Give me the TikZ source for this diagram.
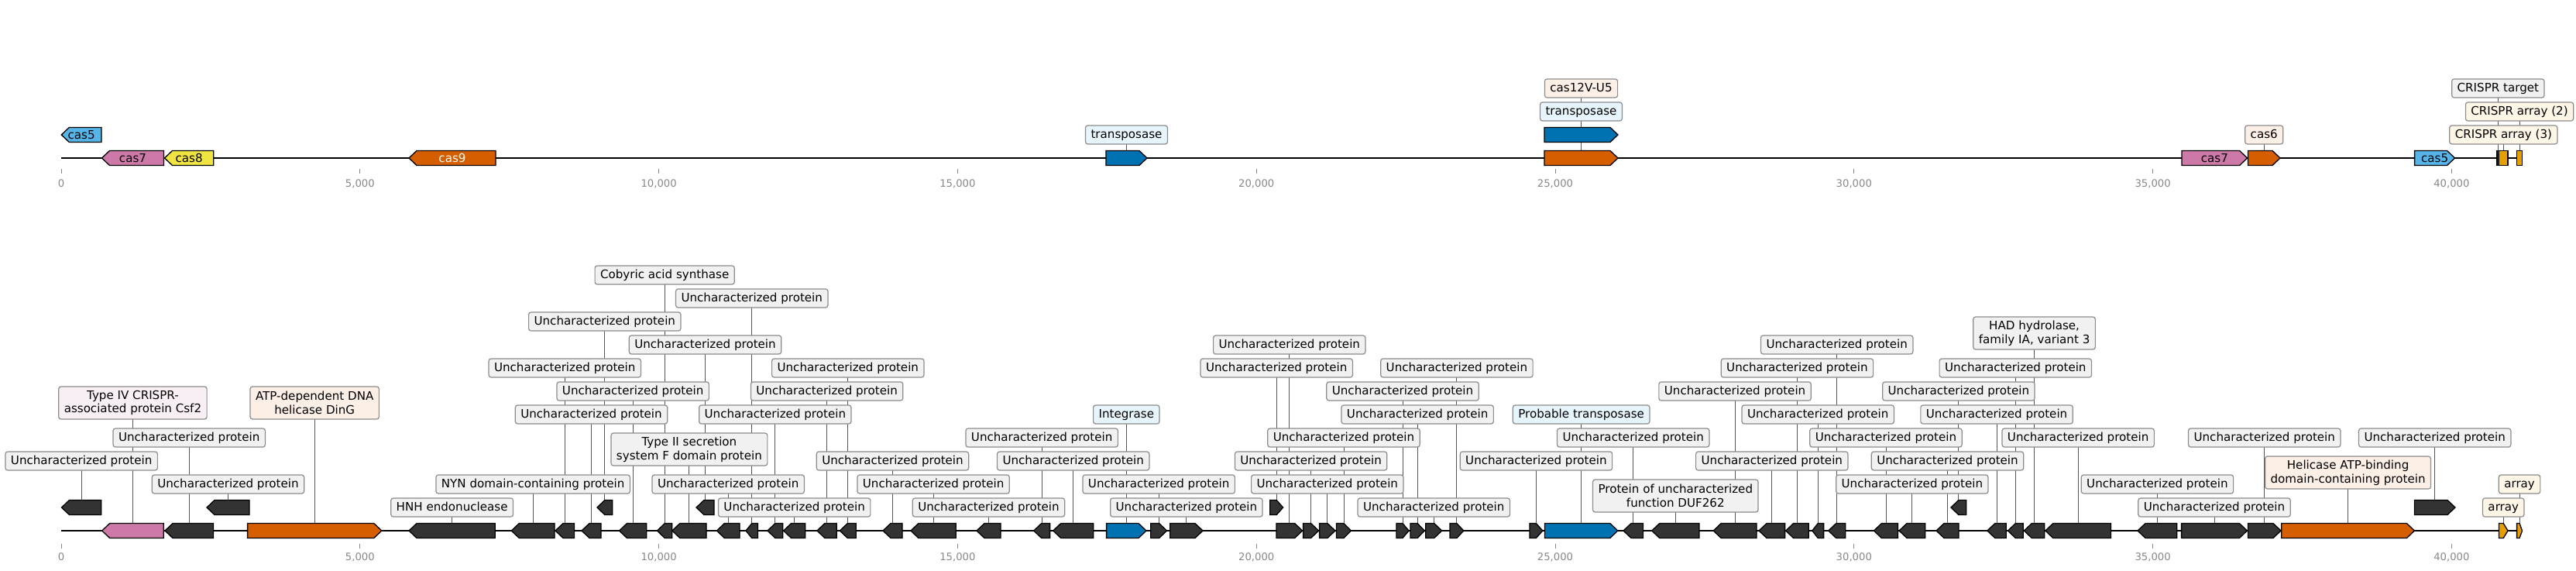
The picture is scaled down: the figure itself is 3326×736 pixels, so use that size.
\documentclass[tikz,border=0pt]{standalone}
\usepackage{fontspec}
\setmainfont{DejaVu Sans}
\pgfdeclarelayer{bg}
\pgfsetlayers{bg,main}
\definecolor{cDark}{HTML}{333333}
\definecolor{cOrange}{HTML}{D55E00}
\definecolor{cBlue}{HTML}{0072B2}
\definecolor{cSky}{HTML}{56B4E9}
\definecolor{cPink}{HTML}{CC79A7}
\definecolor{cYellow}{HTML}{F0E442}
\definecolor{cAmber}{HTML}{E69F00}
\definecolor{fGray}{HTML}{F1F1F1}
\definecolor{fBlue}{HTML}{E6F4FB}
\definecolor{fOrange}{HTML}{FCEFE6}
\definecolor{fPink}{HTML}{F8EFF5}
\definecolor{fCream}{HTML}{FDF6E6}
\definecolor{cBorder}{HTML}{8C8C8C}
\definecolor{cTick}{HTML}{888888}
\definecolor{cConn}{HTML}{555555}
\tikzset{
  gene/.style={draw=black,line width=1.3pt},
  labbase/.style={draw=cBorder,line width=1.2pt,rounded corners=3pt,fill=fGray,inner xsep=7pt,inner ysep=0pt,font=\fontsize{15.1}{17.7}\selectfont},
  lab/.style={labbase,text height=11.5pt,text depth=3.5pt,minimum height=24pt},
  two/.style={labbase,align=center,minimum height=42pt},
  conn/.style={draw=cConn,line width=0.9pt},
  gtext/.style={font=\fontsize{15.1}{17.7}\selectfont,inner sep=0pt,text height=11pt,text depth=0pt},
  ticklab/.style={text=cTick,font=\fontsize{13.2}{15}\selectfont,inner sep=0pt,text height=9.6pt,text depth=0pt},
  tickmark/.style={draw=cTick,line width=0.9pt},
  seq/.style={draw=black,line width=2.2pt}
}
% right-pointing gene
\newcommand\gR[5]{%
  \pgfmathsetmacro\hd{min(10,0.5*(#3-#2))}%
  \pgfmathsetmacro\xb{#3-\hd}%
  \path[gene,fill=#5] (#2,#4-9.5) -- (\xb,#4-9.5) -- (#3,#4) -- (\xb,#4+9.5) -- (#2,#4+9.5) -- cycle;%
  \coordinate (#1) at ({(#2+#3)/2},#4);}
% left-pointing gene
\newcommand\gL[5]{%
  \pgfmathsetmacro\hd{min(10,0.5*(#3-#2))}%
  \pgfmathsetmacro\xb{#2+\hd}%
  \path[gene,fill=#5] (#3,#4-9.5) -- (\xb,#4-9.5) -- (#2,#4) -- (\xb,#4+9.5) -- (#3,#4+9.5) -- cycle;%
  \coordinate (#1) at ({(#2+#3)/2},#4);}
% box feature
\newcommand\gB[5]{%
  \path[gene,fill=#5] (#2,#4-9.5) rectangle (#3,#4+9.5);%
  \coordinate (#1) at ({(#2+#3)/2},#4);}
% label with connector
\newcommand\lab[5][lab]{%
  \node[#1] (#2) at (#3 |- 0,#4) {#5};%
  \begin{pgfonlayer}{bg}\draw[conn] (#2.center) -- (#3);\end{pgfonlayer}}
\begin{document}
\begin{tikzpicture}[x=1pt,y=-1pt]
\useasboundingbox (0,0) rectangle (3326,736);
% sequence lines and axes
\coordinate (ts) at (79,204);
\coordinate (te) at (3256.5,204);
\coordinate (bs) at (79,685);
\coordinate (be) at (3256.5,685);
\begin{pgfonlayer}{bg}
\draw[seq] (ts) -- (te);
\draw[seq] (bs) -- (be);
\end{pgfonlayer}
\foreach \k/\t in {0/0,1/{5,000},2/{10,000},3/{15,000},4/{20,000},5/{25,000},6/{30,000},7/{35,000},8/{40,000}}{
  \pgfmathsetmacro\xx{79+385.8*\k}
  \draw[tickmark] (\xx,218) -- (\xx,224);
  \node[ticklab] (tt\k) at (\xx,236.7) {\t};
  \draw[tickmark] (\xx,701.5) -- (\xx,707.5);
  \node[ticklab] (bt\k) at (\xx,719) {\t};
}
% ---------------- top track ----------------
\gL{T1}{79.3}{131}{174}{cSky}
\gL{T2}{131.5}{211.5}{204}{cPink}
\gL{T3}{212.5}{275.7}{204}{cYellow}
\gL{T4}{528}{640}{204}{cOrange}
\gR{T5}{1428}{1481}{204}{cBlue}
\gR{T6}{1994}{2089}{204}{cOrange}
\gR{T7}{1994}{2089}{174}{cBlue}
\gR{T8}{2817}{2901.6}{204}{cPink}
\gR{T9}{2902.4}{2944}{204}{cOrange}
\gR{T10}{3117.6}{3169.5}{204}{cSky}
\gB{T11}{3224}{3226.7}{204}{cDark}
\gB{T12}{3226.7}{3238}{204}{cAmber}
\gB{T13}{3249.7}{3256.3}{204}{cAmber}
\node[gtext] (T1t) at (T1) {cas5};
\node[gtext] (T2t) at (T2) {cas7};
\node[gtext] (T3t) at (T3) {cas8};
\node[gtext,text=white] (T4t) at (T4) {cas9};
\node[gtext] (T8t) at (T8) {cas7};
\node[gtext] (T10t) at (T10) {cas5};
\lab[lab,fill=fBlue]{lT5}{T5}{174}{transposase}
\lab[lab,fill=fOrange]{lT6}{T6}{114}{cas12V-U5}
\lab[lab,fill=fBlue]{lT7}{T7}{144}{transposase}
\lab[lab,fill=fOrange]{lT9}{T9}{174}{cas6}
\lab{lT11}{T11}{114}{CRISPR target}
\lab[lab,fill=fCream]{lT13}{T13}{144}{CRISPR array (2)}
\lab[lab,fill=fCream]{lT12}{T12}{174}{CRISPR array (3)}
% ---------------- bottom track ----------------
\gL{B1}{79.5}{130.8}{655}{cDark}
\gL{B2}{131.7}{211.2}{685}{cPink}
\gL{B3}{213}{275.4}{685}{cDark}
\gL{B4}{267}{321.9}{655}{cDark}
\gR{B5}{319.6}{492.8}{685}{cOrange}
\gL{B6}{528}{639.3}{685}{cDark}
\gL{B7}{660.3}{716}{685}{cDark}
\gL{B8}{717}{741.5}{685}{cDark}
\gL{B9}{751}{776}{685}{cDark}
\gL{B10}{771}{790.6}{655}{cDark}
\gL{B11}{799.5}{834.8}{685}{cDark}
\gL{B12}{848.6}{867.8}{685}{cDark}
\gL{B13}{867.8}{912}{685}{cDark}
\gL{B14}{899}{922}{655}{cDark}
\gL{B15}{925.4}{955}{685}{cDark}
\gL{B16}{963}{978.5}{685}{cDark}
\gL{B17}{991}{1010.7}{685}{cDark}
\gL{B18}{1011.6}{1039.7}{685}{cDark}
\gL{B19}{1054.9}{1080.3}{685}{cDark}
\gL{B20}{1084.3}{1105.3}{685}{cDark}
\gL{B21}{1140}{1165}{685}{cDark}
\gL{B22}{1175.9}{1234.3}{685}{cDark}
\gL{B23}{1261}{1292}{685}{cDark}
\gL{B24}{1334.7}{1355.6}{685}{cDark}
\gL{B25}{1359.7}{1411.7}{685}{cDark}
\gR{B26}{1428.6}{1480}{685}{cBlue}
\gR{B27}{1485.7}{1506.6}{685}{cDark}
\gR{B28}{1510.7}{1553}{685}{cDark}
\gR{B29}{1639.8}{1656.6}{655}{cDark}
\gR{B30}{1648}{1681.6}{685}{cDark}
\gR{B31}{1682.6}{1702.6}{685}{cDark}
\gR{B32}{1703.6}{1724}{685}{cDark}
\gR{B33}{1725.5}{1744.4}{685}{cDark}
\gR{B34}{1803}{1819}{685}{cDark}
\gR{B35}{1821}{1839.3}{685}{cDark}
\gR{B36}{1840.8}{1861.7}{685}{cDark}
\gR{B37}{1872}{1889.8}{685}{cDark}
\gR{B38}{1975}{1991.8}{685}{cDark}
\gR{B39}{1994.4}{2088.8}{685}{cBlue}
\gL{B40}{2096}{2121.4}{685}{cDark}
\gL{B41}{2132.7}{2193.9}{685}{cDark}
\gL{B42}{2212.2}{2267.9}{685}{cDark}
\gL{B43}{2271}{2304.6}{685}{cDark}
\gL{B44}{2305.6}{2335.2}{685}{cDark}
\gL{B45}{2339.8}{2354.6}{685}{cDark}
\gL{B46}{2360.7}{2382.7}{685}{cDark}
\gL{B47}{2419.4}{2450.5}{685}{cDark}
\gL{B48}{2452}{2485.7}{685}{cDark}
\gL{B49}{2500}{2529}{685}{cDark}
\gL{B50}{2518.9}{2538.8}{655}{cDark}
\gL{B51}{2565.8}{2590.3}{685}{cDark}
\gL{B52}{2592.4}{2612.2}{685}{cDark}
\gL{B53}{2613.3}{2639.8}{685}{cDark}
\gL{B54}{2640.8}{2725.5}{685}{cDark}
\gL{B55}{2760}{2810.8}{685}{cDark}
\gR{B56}{2816.6}{2901.4}{685}{cDark}
\gR{B57}{2902.5}{2945}{685}{cDark}
\gR{B58}{2945.7}{3117.4}{685}{cOrange}
\gR{B59}{3117.4}{3170}{655}{cDark}
\gR{B60}{3226.5}{3238}{685}{cAmber}
\gR{B61}{3249.6}{3256.5}{685}{cAmber}
% labels
\lab{lB1}{B1}{595}{Uncharacterized protein}
\lab[two,fill=fPink]{lB2}{B2}{520}{Type IV CRISPR-\\associated protein Csf2}
\lab{lB3}{B3}{565}{Uncharacterized protein}
\lab{lB4}{B4}{625}{Uncharacterized protein}
\lab[two,fill=fOrange]{lB5}{B5}{520}{ATP-dependent DNA\\helicase DinG}
\lab{lB6}{B6}{655}{HNH endonuclease}
\lab{lB7}{B7}{625}{NYN domain-containing protein}
\lab{lB12}{B12}{355}{Cobyric acid synthase}
\lab{lB16}{B16}{385}{Uncharacterized protein}
\lab{lB10}{B10}{415}{Uncharacterized protein}
\lab{lB14}{B14}{445}{Uncharacterized protein}
\lab{lB8}{B8}{475}{Uncharacterized protein}
\lab{lB20}{B20}{475}{Uncharacterized protein}
\lab{lB11}{B11}{505}{Uncharacterized protein}
\lab{lB19}{B19}{505}{Uncharacterized protein}
\lab{lB9}{B9}{535}{Uncharacterized protein}
\lab{lB17}{B17}{535}{Uncharacterized protein}
\lab[two]{lB13}{B13}{580}{Type II secretion\\system F domain protein}
\lab{lB21}{B21}{595}{Uncharacterized protein}
\lab{lB15}{B15}{625}{Uncharacterized protein}
\lab{lB22}{B22}{625}{Uncharacterized protein}
\lab{lB18}{B18}{655}{Uncharacterized protein}
\lab{lB23}{B23}{655}{Uncharacterized protein}
\lab{lB24}{B24}{565}{Uncharacterized protein}
\lab{lB25}{B25}{595}{Uncharacterized protein}
\lab[lab,fill=fBlue]{lB26}{B26}{535}{Integrase}
\lab{lB27}{B27}{625}{Uncharacterized protein}
\lab{lB28}{B28}{655}{Uncharacterized protein}
\lab{lB30}{B30}{445}{Uncharacterized protein}
\lab{lB29}{B29}{475}{Uncharacterized protein}
\lab{lB37}{B37}{475}{Uncharacterized protein}
\lab{lB34}{B34}{505}{Uncharacterized protein}
\lab{lB35}{B35}{535}{Uncharacterized protein}
\lab{lB33}{B33}{565}{Uncharacterized protein}
\lab{lB31}{B31}{595}{Uncharacterized protein}
\lab{lB32}{B32}{625}{Uncharacterized protein}
\lab{lB36}{B36}{655}{Uncharacterized protein}
\lab{lB38}{B38}{595}{Uncharacterized protein}
\lab[lab,fill=fBlue]{lB39}{B39}{535}{Probable transposase}
\lab{lB40}{B40}{565}{Uncharacterized protein}
\lab[two]{lB41}{B41}{640}{Protein of uncharacterized\\function DUF262}
\lab{lB46}{B46}{445}{Uncharacterized protein}
\lab{lB44}{B44}{475}{Uncharacterized protein}
\lab{lB42}{B42}{505}{Uncharacterized protein}
\lab{lB45}{B45}{535}{Uncharacterized protein}
\lab{lB47}{B47}{565}{Uncharacterized protein}
\lab{lB43}{B43}{595}{Uncharacterized protein}
\lab{lB49}{B49}{595}{Uncharacterized protein}
\lab{lB48}{B48}{625}{Uncharacterized protein}
\lab[two]{lB53}{B53}{430}{HAD hydrolase,\\family IA, variant 3}
\lab{lB52}{B52}{475}{Uncharacterized protein}
\lab{lB50}{B50}{505}{Uncharacterized protein}
\lab{lB51}{B51}{535}{Uncharacterized protein}
\lab{lB54}{B54}{565}{Uncharacterized protein}
\lab{lB57}{B57}{565}{Uncharacterized protein}
\lab{lB59}{B59}{565}{Uncharacterized protein}
\lab{lB55}{B55}{625}{Uncharacterized protein}
\lab{lB56}{B56}{655}{Uncharacterized protein}
\lab[two,fill=fOrange]{lB58}{B58}{610}{Helicase ATP-binding\\domain-containing protein}
\lab[lab,fill=fCream]{lB61}{B61}{625}{array}
\lab[lab,fill=fCream]{lB60}{B60}{655}{array}
\end{tikzpicture}
\end{document}
